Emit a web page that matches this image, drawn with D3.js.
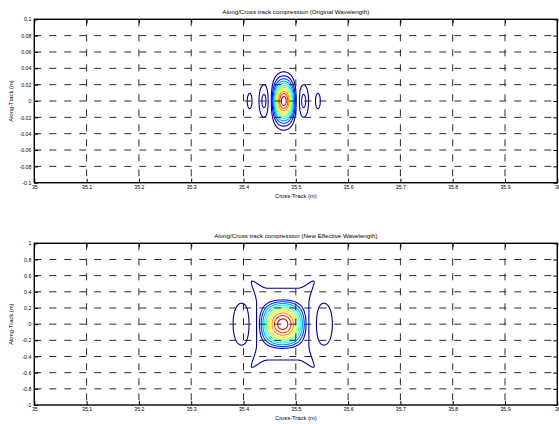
<!DOCTYPE html>
<html>
<head>
<meta charset="utf-8">
<script src="https://cdn.jsdelivr.net/npm/d3@7"></script>
<style>
  html, body { margin: 0; padding: 0; background: #fff; }
  svg { display: block; }
  text { font-family: "Liberation Sans", Arial, Helvetica, sans-serif; fill: #000; }
</style>
</head>
<body>
<svg id="chart" width="559" height="424"></svg>
<script>
// ---- data ---------------------------------------------------------------
const xTicks = [35, 35.1, 35.2, 35.3, 35.4, 35.5, 35.6, 35.7, 35.8, 35.9, 36];
const xTickLabels = ["35", "35.1", "35.2", "35.3", "35.4", "35.5", "35.6", "35.7", "35.8", "35.9", "36"];

const topYTicks = [-0.1, -0.08, -0.06, -0.04, -0.02, 0, 0.02, 0.04, 0.06, 0.08, 0.1];
const topYTickLabels = ["-0.1", "-0.08", "-0.06", "-0.04", "-0.02", "0", "0.02", "0.04", "0.06", "0.08", "0.1"];
const bottomYTicks = [-1, -0.8, -0.6, -0.4, -0.2, 0, 0.2, 0.4, 0.6, 0.8, 1];
const bottomYTickLabels = ["-1", "-0.8", "-0.6", "-0.4", "-0.2", "0", "0.2", "0.4", "0.6", "0.8", "1"];

// normalised contour levels of the compressed point-target response
const topLevels = [0.11, 0.194, 0.278, 0.362, 0.446, 0.53, 0.614, 0.698, 0.782, 0.866, 0.95];
const bottomLevels = [0.14, 0.221, 0.302, 0.383, 0.464, 0.545, 0.626, 0.707, 0.788, 0.869, 0.95];
// colour position (jet) of each level, lowest to highest
const levelColorPos = [0.03, 0.11, 0.19, 0.28, 0.37, 0.46, 0.55, 0.64, 0.73, 0.82, 0.91];

// original wavelength: centre (m), cross-track null spacing (m), along-track spread (m)
const topTarget = { cx: 35.477, cy: 0, nullX: 0.0265, sigmaY: 0.017 };
// new effective wavelength: main lobe and sidelobe along-track nulls (m)
const bottomTarget = { cx: 35.475, cy: 0, nullX: 0.055, nullY: 0.37, sideNullY: 0.525 };
// low-level skirt round the main lobe: half-widths (m), squareness, corner reach and width, peak
const bottomSkirt = { halfX: 0.05, halfY: 0.444, square: 6, reach: 0.34, spikeWidth: 0.21, peak: 0.2 };

const titles = [
  "Along/Cross track compression (Original Wavelength)",
  "Along/Cross track compression (New Effective Wavelength)"
];
const xLabel = "Cross-Track (m)";
const yLabel = "Along-Track (m)";

// ---- helpers --------------------------------------------------------------
function sinc(t) {
  if (Math.abs(t) < 1e-9) return 1;
  const p = Math.PI * t;
  return Math.sin(p) / p;
}
function mainLobe(t) { return Math.abs(t) < 1 ? sinc(t) : 0; }
function clamp01(v) { return Math.max(0, Math.min(1, v)); }
function jet(t) {
  const r = clamp01(1.5 - Math.abs(4 * t - 3));
  const g = clamp01(1.5 - Math.abs(4 * t - 2));
  const b = clamp01(1.5 - Math.abs(4 * t - 1));
  return d3.rgb(r * 255, g * 255, b * 255).formatHex();
}

function responseTop(x, y) {
  const t = topTarget;
  return Math.abs(sinc((x - t.cx) / t.nullX)) *
         Math.exp(-((y - t.cy) ** 2) / (2 * t.sigmaY ** 2));
}

// skirt radius: 1 on a rounded square whose corners are drawn out diagonally
function skirtRadius(dx, dy) {
  const s = bottomSkirt;
  const X = Math.abs(dx / s.halfX), Y = Math.abs(dy / s.halfY);
  const sq = Math.pow(Math.pow(X, s.square) + Math.pow(Y, s.square), 1 / s.square);
  const diag = Math.exp(-(((X - Y) / s.spikeWidth) ** 2));
  return sq / (1 + s.reach * diag);
}
function responseBottom(x, y) {
  const t = bottomTarget;
  const dx = x - t.cx, dy = y - t.cy;
  const u = dx / t.nullX;
  const along = Math.abs(u) < 1 ? mainLobe(dy / t.nullY) : mainLobe(dy / t.sideNullY);
  const core = Math.abs(sinc(u)) * along;
  const rho = skirtRadius(dx, dy);
  const skirt = bottomSkirt.peak * Math.exp(-rho * rho * Math.log(bottomSkirt.peak / bottomLevels[0]));
  return Math.max(core, skirt);
}

// ---- layout ---------------------------------------------------------------
const svg = d3.select("#chart");
const left = 34.3, right = 557.3;
const panels = [
  { top: 19.3, bottom: 182.7, yDomain: [-0.1, 0.1], yTicks: topYTicks, yLabels: topYTickLabels,
    levels: topLevels, field: responseTop, title: titles[0] },
  { top: 243.3, bottom: 405, yDomain: [-1, 1], yTicks: bottomYTicks, yLabels: bottomYTickLabels,
    levels: bottomLevels, field: responseBottom, title: titles[1] }
];

const x = d3.scaleLinear().domain([35, 36]).range([left, right]);

panels.forEach((p, k) => {
  const y = d3.scaleLinear().domain(p.yDomain).range([p.bottom, p.top]);
  const g = svg.append("g");

  const clipId = "clip" + k;
  svg.append("clipPath").attr("id", clipId)
    .append("rect").attr("x", left).attr("y", p.top)
    .attr("width", right - left).attr("height", p.bottom - p.top);

  // sample the response on a grid and trace the contour levels
  const fx0 = 35.28, fx1 = 35.68, nx = 800;
  const fy0 = p.yDomain[0], fy1 = p.yDomain[1], ny = 400;
  const sx = (fx1 - fx0) / (nx - 1), sy = (fy1 - fy0) / (ny - 1);
  const values = new Float64Array(nx * ny);
  for (let j = 0; j < ny; j++) {
    const yy = fy0 + j * sy;
    for (let i = 0; i < nx; i++) values[j * nx + i] = p.field(fx0 + i * sx, yy);
  }
  const contours = d3.contours().size([nx, ny]).thresholds(p.levels)(values);
  const proj = d3.geoTransform({
    point: function (gx, gy) {
      this.stream.point(x(fx0 + (gx - 0.5) * sx), y(fy0 + (gy - 0.5) * sy));
    }
  });
  const path = d3.geoPath(proj);
  const levelColor = d3.scaleOrdinal().domain(p.levels).range(levelColorPos.map(jet));

  g.append("g").attr("clip-path", `url(#${clipId})`)
    .selectAll("path").data(contours).join("path")
    .attr("d", path)
    .attr("fill", "none")
    .attr("stroke", d => levelColor(d.value))
    .attr("stroke-width", 1.1)
    .attr("stroke-linejoin", "round");

  // dashed grid
  const grid = g.append("g").attr("stroke", "#2a2a2a").attr("stroke-width", 1)
    .attr("stroke-dasharray", "7,8").attr("fill", "none");
  xTicks.slice(1, -1).forEach(v => {
    grid.append("line").attr("x1", x(v)).attr("x2", x(v)).attr("y1", p.top).attr("y2", p.bottom);
  });
  p.yTicks.slice(1, -1).forEach(v => {
    grid.append("line").attr("x1", left).attr("x2", right).attr("y1", y(v)).attr("y2", y(v));
  });

  // axes with inward ticks on all four sides
  const tickLen = 4;
  const xAxisB = d3.axisBottom(x).tickValues(xTicks).tickSize(-tickLen).tickPadding(2.5)
    .tickFormat((d, i) => xTickLabels[i]);
  const xAxisT = d3.axisTop(x).tickValues(xTicks).tickSize(-tickLen).tickFormat("");
  const yAxisL = d3.axisLeft(y).tickValues(p.yTicks).tickSize(-tickLen).tickPadding(3)
    .tickFormat((d, i) => p.yLabels[i]);
  const yAxisR = d3.axisRight(y).tickValues(p.yTicks).tickSize(-tickLen).tickFormat("");

  const axes = [
    g.append("g").attr("transform", `translate(0,${p.bottom})`).call(xAxisB),
    g.append("g").attr("transform", `translate(0,${p.top})`).call(xAxisT),
    g.append("g").attr("transform", `translate(${left},0)`).call(yAxisL),
    g.append("g").attr("transform", `translate(${right},0)`).call(yAxisR)
  ];
  axes.forEach(a => {
    a.select(".domain").remove();
    a.selectAll(".tick line").attr("stroke", "#000").attr("stroke-width", 1);
    a.selectAll(".tick text").style("font-size", "5.2px").attr("fill", "#000");
  });

  g.append("rect").attr("x", left).attr("y", p.top)
    .attr("width", right - left).attr("height", p.bottom - p.top)
    .attr("fill", "none").attr("stroke", "#000").attr("stroke-width", 1.4);

  // titles and axis labels
  const cxPlot = (left + right) / 2;
  g.append("text").attr("x", cxPlot).attr("y", p.top - 5)
    .attr("text-anchor", "middle").style("font-size", "6.2px").text(p.title);
  g.append("text").attr("x", cxPlot).attr("y", p.bottom + 14.8)
    .attr("text-anchor", "middle").style("font-size", "5.8px").text(xLabel);
  g.append("text")
    .attr("transform", `translate(12.5,${(p.top + p.bottom) / 2}) rotate(-90)`)
    .attr("text-anchor", "middle").style("font-size", "5.8px").text(yLabel);
});
</script>
</body>
</html>
